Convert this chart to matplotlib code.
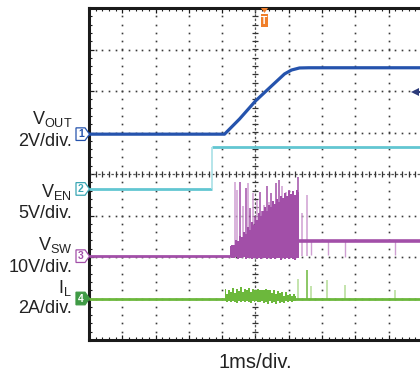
import matplotlib
matplotlib.use('Agg')
import matplotlib.pyplot as plt
import numpy as np
from matplotlib.patches import Polygon, Rectangle

plt.rcParams['font.family'] = ['Liberation Sans', 'DejaVu Sans']
plt.rcParams['mathtext.default'] = 'regular'

# ---------------- data (time in ms relative to trigger, 1 ms/div) -------------
T_LEFT, T_RIGHT = -5.0, 4.94
N_YDIV = 8

# channel settings: volts (or amps) per division, ground position in divisions
vout_scale, vout_pos = 2.0, 4.96
ven_scale, ven_pos = 5.0, 3.64
vsw_scale, vsw_pos = 10.0, 2.02
il_scale, il_pos = 2.0, 1.00

# VOUT (V)
vout_t = [-5.0, -0.93, -0.48, 0.0, 0.48, 0.87, 1.08, 1.32, 1.60, 4.94]
vout_v = [0.0, 0.0, 0.73, 1.60, 2.32, 2.90, 3.09, 3.19, 3.20, 3.20]

# VEN (V)
ven_step_t = -1.32
ven_low_t = [-5.0, -1.32]
ven_low_v = [0.0, 0.0]
ven_high_t = [-1.32, 4.94]
ven_high_v = [5.0, 5.0]

# VSW (V)
vsw_pre_t = [-5.0, -0.78]
vsw_pre_v = [0.0, 0.0]
vsw_body_t = [-0.78, -0.72, -0.66, -0.60, -0.54, -0.48, -0.42, -0.36, -0.30, -0.24, -0.18, -0.12,
              -0.06, 0.00, 0.06, 0.12, 0.18, 0.24, 0.30, 0.36, 0.42, 0.48, 0.54, 0.60,
              0.66, 0.72, 0.78, 0.84, 0.90, 0.96, 1.02, 1.08, 1.14, 1.20, 1.26, 1.31]
vsw_body_hi = [2.5, 2.8, 2.7, 3.8, 3.6, 4.8, 4.5, 5.8, 5.4, 7.0, 6.4, 8.2,
               7.6, 9.2, 8.6, 10.4, 9.6, 10.8, 11.8, 10.9, 12.4, 11.8, 13.2, 12.6,
               13.8, 13.1, 14.6, 13.9, 15.2, 14.5, 15.8, 15.0, 15.6, 14.8, 16.0, 15.5]
vsw_body_lo = [-0.3, -0.4, -0.5, -0.3, -0.6, -0.4, -0.5, -0.3, -0.6, -0.5, -0.4, -0.7,
               -0.5, -0.4, -0.6, -0.5, -0.8, -0.4, -0.5, -0.6, -0.4, -0.7, -0.5, -0.6,
               -0.4, -0.5, -0.9, -0.5, -0.6, -0.4, -0.7, -0.5, -0.6, -1.0, -0.5, -0.4]
vsw_spike_t = [-0.63, -0.57, -0.48, -0.39, -0.30, -0.24, -0.18, -0.09, 0.0, 0.06, 0.15, 0.21, 0.27,
               0.36, 0.42, 0.48, 0.57, 0.63, 0.72, 0.81, 0.87, 0.93, 1.02, 1.11, 1.20, 1.29, 1.41, 1.56]
vsw_spike_v = [17.9, 16.0, 17.9, 12.0, 16.4, 17.6, 11.5, 15.2, 9.8, 13.5, 15.5, 10.8, 12.3,
               16.9, 13.0, 15.2, 11.9, 17.6, 18.4, 16.9, 14.0, 15.5, 15.9, 14.5, 13.2, 19.1, 10.5, 14.7]
vsw_spike_light = [1, 1, 0, 1, 0, 1, 0, 1, 0, 1, 0, 0, 1,
                   0, 1, 0, 1, 0, 0, 1, 0, 1, 0, 1, 0, 0, 1, 1]
vsw_post_t = [1.31, 4.94]
vsw_post_v = [3.7, 3.7]
vsw_dip_t = [1.68, 2.19, 2.70, 4.20]
vsw_dip_v = [0.3, 0.3, -0.2, 0.3]

# IL (A)
il_t = [-5.0, 4.94]
il_v = [0.0, 0.0]
il_band_t = [-0.93, -0.87, -0.81, -0.75, -0.69, -0.63, -0.57, -0.51, -0.45, -0.39, -0.33, -0.27,
             -0.21, -0.15, -0.09, -0.03, 0.03, 0.09, 0.15, 0.21, 0.27, 0.33, 0.39, 0.45,
             0.51, 0.57, 0.63, 0.69, 0.75, 0.81, 0.87, 0.93, 0.99, 1.05, 1.11, 1.17, 1.23]
il_band_hi = [0.45, 0.22, 0.42, 0.32, 0.50, 0.28, 0.45, 0.38, 0.55, 0.30, 0.48, 0.40,
              0.52, 0.32, 0.46, 0.42, 0.42, 0.44, 0.42, 0.43, 0.42, 0.44, 0.42, 0.40,
              0.28, 0.42, 0.20, 0.38, 0.25, 0.32, 0.14, 0.30, 0.16, 0.24, 0.12, 0.20, 0.10]
il_band_lo = [-0.10, -0.15, -0.12, -0.18, -0.10, -0.15, -0.20, -0.12, -0.15, -0.10, -0.18, -0.12,
              -0.15, -0.20, -0.10, -0.15, -0.12, -0.18, -0.15, -0.10, -0.20, -0.15, -0.25, -0.12,
              -0.20, -0.15, -0.28, -0.12, -0.22, -0.15, -0.20, -0.10, -0.15, -0.12, -0.18, -0.10, -0.12]
il_spike_t = [1.29, 1.56, 1.68, 2.16, 2.70, 4.20]
il_spike_v = [0.92, 1.35, 0.59, 0.87, 0.63, 0.39]
il_spike_light = [1, 0, 1, 1, 1, 1]

# ---------------- styling ----------------
C_VOUT = '#2553ad'
C_VEN = '#62c6d2'
C_VSW = '#a24fa8'
C_VSW_L = '#cf9fd2'
C_IL = '#6cb83c'
C_IL_L = '#b4dc96'
C_GRID = '#3a3a3a'
C_TRIG = '#f07f2a'

W, H = 420, 371
fig = plt.figure(figsize=(W / 100, H / 100), dpi=100)
fig.patch.set_facecolor('white')

L_PX, TOP_PX, BOT_PX, R_PX = 89, 8, 340, 420
ax = fig.add_axes([L_PX / W, 1 - BOT_PX / H, (R_PX - L_PX) / W, (BOT_PX - TOP_PX) / H])
ax.set_xlim(T_LEFT, T_RIGHT)
ax.set_ylim(0, N_YDIV)
ax.set_facecolor('white')

for s in ['left', 'top', 'bottom']:
    ax.spines[s].set_linewidth(2.2)
    ax.spines[s].set_color('#1a1a1a')
ax.spines['right'].set_visible(False)

ax.set_xticks(np.arange(-5, 5, 1))
ax.set_xticks(np.arange(-5, 4.95, 0.2), minor=True)
ax.set_yticks(np.arange(0, 9, 1))
ax.set_yticks(np.arange(0, 8.01, 0.2), minor=True)
ax.tick_params(which='both', direction='in', top=True, bottom=True, left=True, right=False,
               labelbottom=False, labelleft=False, color='#1a1a1a')
ax.tick_params(which='major', length=3.5, width=0.9)
ax.tick_params(which='minor', length=2.5, width=0.8)

# dotted grid
for xv in range(-4, 5):
    if xv == 0:
        continue
    ys = np.arange(0.2, 7.9, 0.2)
    ax.plot(np.full_like(ys, xv), ys, ls='none', marker='s', ms=1.2, color=C_GRID, mew=0)
for yv in range(1, 8):
    if yv == 4:
        continue
    xs = np.arange(-4.8, 4.95, 0.2)
    ax.plot(xs, np.full_like(xs, yv), ls='none', marker='s', ms=1.2, color=C_GRID, mew=0)

# center cross-hair lines with ticks
ax.axvline(0, color='#555555', lw=0.9, ls=(0, (2, 1.5)))
ys = np.arange(0.2, 7.9, 0.2)
ax.plot(np.zeros_like(ys), ys, ls='none', marker='_', ms=4, mew=0.9, color='#333333')
ax.axhline(4, color='#555555', lw=0.9, ls=(0, (2, 1.5)))
xs = np.arange(-4.8, 4.95, 0.2)
ax.plot(xs, np.full_like(xs, 4), ls='none', marker='|', ms=4, mew=0.9, color='#333333')


def channel_axis(scale, pos):
    a = ax.twinx()
    a.set_ylim(-pos * scale, (N_YDIV - pos) * scale)
    a.axis('off')
    a.patch.set_visible(False)
    return a


# VOUT
a1 = channel_axis(vout_scale, vout_pos)
a1.plot(vout_t, vout_v, color=C_VOUT, lw=2.3, solid_capstyle='butt')

# VEN
a2 = channel_axis(ven_scale, ven_pos)
a2.plot(ven_low_t, ven_low_v, color=C_VEN, lw=2.0, solid_capstyle='butt')
a2.plot(ven_high_t, ven_high_v, color=C_VEN, lw=2.0, solid_capstyle='butt')
a2.vlines(ven_step_t, ven_low_v[-1], ven_high_v[0], color='#a9e0e6', lw=1.2)

# VSW
a3 = channel_axis(vsw_scale, vsw_pos)
a3.plot(vsw_pre_t, vsw_pre_v, color=C_VSW, lw=2.0, solid_capstyle='butt')
for t, v, light in zip(vsw_spike_t, vsw_spike_v, vsw_spike_light):
    a3.vlines(t, 0, v, color=C_VSW_L if light else C_VSW, lw=1.1, zorder=2)
a3.fill_between(vsw_body_t, vsw_body_lo, vsw_body_hi, color=C_VSW, lw=0, step='mid', zorder=3)
a3.plot(vsw_post_t, vsw_post_v, color=C_VSW, lw=2.6, solid_capstyle='butt', zorder=3)
for t, v in zip(vsw_dip_t, vsw_dip_v):
    a3.vlines(t, v, vsw_post_v[0], color=C_VSW_L, lw=1.0, zorder=2)

# IL
a4 = channel_axis(il_scale, il_pos)
for t, v, light in zip(il_spike_t, il_spike_v, il_spike_light):
    a4.vlines(t, 0, v, color=C_IL_L if light else C_IL, lw=1.1, zorder=2)
a4.fill_between(il_band_t, il_band_lo, il_band_hi, color=C_IL, lw=0, step='mid', zorder=3)
a4.plot(il_t, il_v, color=C_IL, lw=2.0, solid_capstyle='butt', zorder=3)

# channel markers at left edge
yt = ax.get_yaxis_transform()
def xf(px):
    return (px - L_PX) / (R_PX - L_PX)

half = 6.3 / ((BOT_PX - TOP_PX) / N_YDIV)
markers = [
    ('1', vout_pos, 'white', C_VOUT, C_VOUT),
    ('2', ven_pos, 'white', '#3aa6b4', '#3aa6b4'),
    ('3', vsw_pos, 'white', C_VSW, C_VSW),
    ('4', il_pos, '#3f9a45', '#3f9a45', 'white'),
]
for num, ypos, fc, ec, tc in markers:
    poly = Polygon([(xf(76), ypos - half), (xf(85), ypos - half), (xf(89.5), ypos),
                    (xf(85), ypos + half), (xf(76), ypos + half)], closed=True,
                   transform=yt, facecolor=fc, edgecolor=ec, lw=0.9, clip_on=False, zorder=10)
    ax.add_patch(poly)
    ax.text(xf(81), ypos, num, transform=yt, ha='center', va='center', color=tc,
            fontsize=7.5, fontweight='bold', clip_on=False, zorder=11)

# labels on the left
def fy(py):
    return 1 - py / H

label_x = 72 / W
fs = 13
labels = [
    (r'V$_{OUT}$', 124, '2V/div.', 146),
    (r'V$_{EN}$', 197, '5V/div.', 218),
    (r'V$_{SW}$', 250, '10V/div.', 272),
    (r'I$_{L}$', 293, '2A/div.', 313),
]
for name, y1, div, y2 in labels:
    fig.text(label_x, fy(y1), name, ha='right', va='baseline', fontsize=fs, color='#222222')
    fig.text(label_x, fy(y2), div, ha='right', va='baseline', fontsize=fs, color='#222222')

fig.text(255.5 / W, fy(368), '1ms/div.', ha='center', va='baseline', fontsize=14.5, color='#222222')

# trigger marker (top)
xt = ax.get_xaxis_transform()
def yf(py):
    return (BOT_PX - py) / (BOT_PX - TOP_PX)
t_trig = (265 - 256) / 33.4
dx = 3.6 / 33.4
ax.add_patch(Polygon([(t_trig - dx, yf(8)), (t_trig + dx, yf(8)), (t_trig, yf(13))], closed=True,
                     transform=xt, facecolor=C_TRIG, edgecolor='none', clip_on=False, zorder=12))
ax.add_patch(Rectangle((t_trig - dx, yf(27)), 2 * dx, yf(14) - yf(27), transform=xt,
                       facecolor=C_TRIG, edgecolor='none', clip_on=False, zorder=12))
ax.text(t_trig, yf(20.5), 'T', transform=xt, ha='center', va='center', color='white',
        fontsize=7.5, fontweight='bold', zorder=13)

# trigger level marker on the right
lvl_t, lvl_y = (416 - 256) / 33.4, (BOT_PX - 92) / ((BOT_PX - TOP_PX) / N_YDIV)
ax.plot([lvl_t], [lvl_y], marker='<', ms=6, color='#2d3b7a', mew=0, zorder=12, clip_on=False)
ax.plot([lvl_t, T_RIGHT], [lvl_y, lvl_y], color='#2d3b7a', lw=1.5, zorder=12)

fig.savefig('out.png', dpi=100, facecolor='white')
